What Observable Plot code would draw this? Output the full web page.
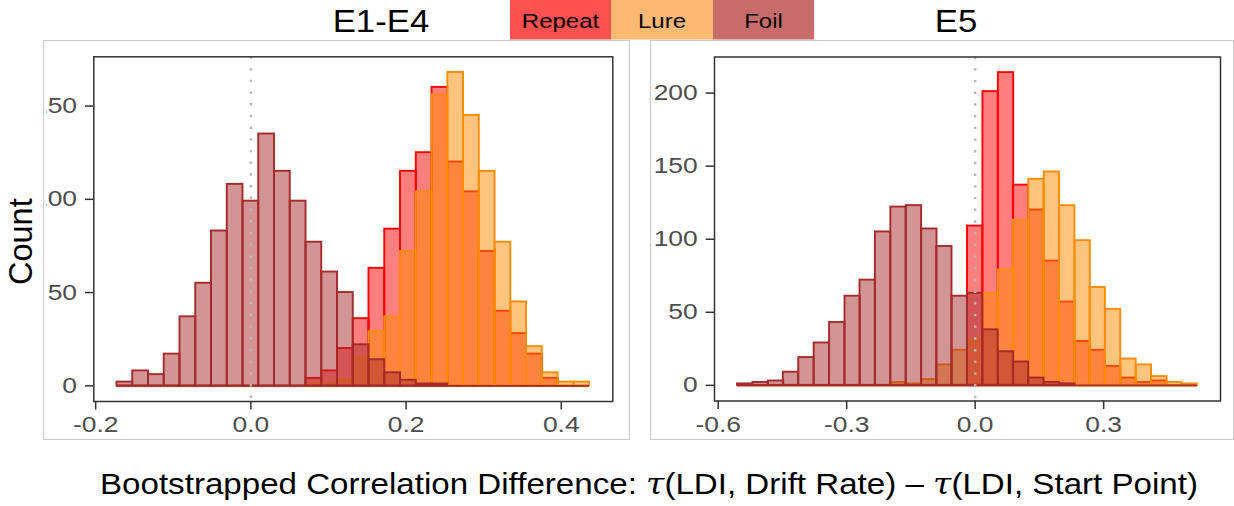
<!DOCTYPE html>
<html>
<head>
<meta charset="utf-8">
<script src="https://cdn.jsdelivr.net/npm/d3@7"></script>
<script src="https://cdn.jsdelivr.net/npm/@observablehq/plot@0.6"></script>
<style>
  body { margin: 0; background: #fff; }
  #root { position: relative; width: 1234px; height: 506px; overflow: hidden; background: #fff;
          font-family: "Liberation Sans", Arial, sans-serif; }
  .box { position: absolute; box-sizing: border-box; border: 1px solid #c8c8c8; pointer-events: none; }
  .panel { position: absolute; }
  #overlay { position: absolute; left: 0; top: 0; pointer-events: none; }
</style>
</head>
<body>
<div id="root"></div>
<script>
// Response groups, drawn in this order (later ones sit on top)
const groups = ["Repeat", "Lure", "Foil"];
const seriesColors = ["#ff0000", "#ff8c00", "#a52a2a"];
const legendColors = ["#ff5050", "#fdb871", "#c86b6b"];

// E1-E4: bootstrapped correlation differences, 30 bins
const e14BinWidth = 0.0203;
const e14Bins = [-0.1624, -0.1421, -0.1218, -0.1015, -0.0812, -0.0609, -0.0406, -0.0203, 0, 0.0203,
                 0.0406, 0.0609, 0.0812, 0.1015, 0.1218, 0.1421, 0.1624, 0.1827, 0.2030, 0.2233,
                 0.2436, 0.2639, 0.2842, 0.3045, 0.3248, 0.3451, 0.3654, 0.3857, 0.4060, 0.4263];
const e14Repeat = [0, 0, 0, 0, 0, 0, 0, 0, 0, 0,
                   0, 0, 4, 8, 20, 36, 63, 84, 115, 125,
                   160, 120, 104, 72, 40, 28, 17, 4, 0, 0];
const e14Lure   = [0, 0, 0, 0, 0, 0, 0, 0, 0, 0,
                   0, 0, 1, 1, 3, 15, 29, 37, 72, 104,
                   156, 168, 145, 115, 77, 45, 21, 7, 2, 2];
const e14Foil   = [2, 8, 6, 17, 37, 55, 83, 108, 99, 135,
                   115, 99, 77, 61, 50, 22, 14, 7, 3, 1,
                   1, 0, 0, 0, 0, 0, 0, 0, 0, 0];
const e14XDomain = [-0.2024, 0.4664];
const e14YDomain = [-8.4, 176.4];
const e14XTicks = [-0.2, 0, 0.2, 0.4];
const e14YTicks = [0, 50, 100, 150];

// E5
const e5BinWidth = 0.0358;
const e5Bins = [-0.537, -0.501, -0.465, -0.430, -0.394, -0.358, -0.322, -0.286, -0.251, -0.215,
                -0.179, -0.143, -0.107, -0.072, -0.036, 0, 0.036, 0.072, 0.107, 0.143,
                0.179, 0.215, 0.251, 0.286, 0.322, 0.358, 0.394, 0.430, 0.465, 0.501];
const e5Repeat = [0, 0, 0, 0, 0, 0, 0, 0, 0, 0,
                  0, 0, 0, 0, 0, 109, 201, 214, 137, 120,
                  85, 57, 30, 24, 13, 5, 2, 3, 0, 0];
const e5Lure   = [0, 0, 0, 0, 0, 0, 0, 0, 0, 0,
                  2, 1, 4, 14, 24, 31, 63, 79, 113, 141,
                  146, 123, 99, 67, 52, 18, 14, 6, 2, 1];
const e5Foil   = [1, 2, 3, 9, 19, 29, 43, 61, 72, 105,
                  122, 123, 107, 95, 61, 63, 38, 23, 16, 5,
                  2, 1, 0, 0, 0, 0, 0, 0, 0, 0];
const e5XDomain = [-0.6086, 0.5728];
const e5YDomain = [-10.7, 224.7];
const e5XTicks = [-0.6, -0.3, 0, 0.3];
const e5YTicks = [0, 50, 100, 150, 200];

const root = document.getElementById("root");
const FONT = '"Liberation Sans", Arial, sans-serif';

// Widen SVG text by a factor (the chart's lettering is set wide)
function widen(nodes, factor) {
  nodes.forEach(t => {
    const len = t.getComputedTextLength();
    t.setAttribute("textLength", (len * factor).toFixed(2));
    t.setAttribute("lengthAdjust", "spacingAndGlyphs");
  });
}

function drawPanel(cfg) {
  const series = [cfg.repeat, cfg.lure, cfg.foil];
  const marks = [];
  series.forEach((counts, i) => {
    const data = cfg.bins.map((c, j) => ({
      group: groups[i],
      x1: c - cfg.binWidth / 2,
      x2: c + cfg.binWidth / 2,
      count: counts[j]
    }));
    marks.push(Plot.rect(data.filter(d => d.count > 0), {
      x1: "x1", x2: "x2", y1: 0, y2: "count",
      fill: seriesColors[i], fillOpacity: 0.5,
      stroke: seriesColors[i], strokeWidth: 1.9
    }));
    // empty bins still leave an outline along the baseline
    marks.push(Plot.ruleY([0], {
      x1: data[0].x1, x2: data[data.length - 1].x2,
      stroke: seriesColors[i], strokeWidth: 1.9
    }));
  });
  marks.push(Plot.ruleX([0], {stroke: "#b5b5b5", strokeWidth: 2.4, strokeDasharray: "2.4,9.3"}));
  marks.push(Plot.axisX(cfg.xTicks, {
    tickFormat: d => d.toFixed(1), tickSize: 8.5, tickPadding: 6.5, fontSize: 22,
    stroke: "#333", color: "#4d4d4d", fill: "#4d4d4d", strokeWidth: 1.5, label: null
  }));
  marks.push(Plot.axisY(cfg.yTicks, {
    tickSize: 8.3, tickPadding: 8.5, fontSize: 22,
    stroke: "#333", color: "#4d4d4d", fill: "#4d4d4d", strokeWidth: 1.5, label: null
  }));
  marks.push(Plot.frame({stroke: "#333", strokeWidth: 1.5}));

  const svg = Plot.plot({
    width: cfg.width, height: cfg.height,
    marginLeft: cfg.marginLeft, marginRight: cfg.marginRight,
    marginTop: cfg.marginTop, marginBottom: cfg.marginBottom,
    x: {domain: cfg.xDomain},
    y: {domain: cfg.yDomain},
    style: {fontFamily: FONT, background: "transparent", overflow: "hidden"},
    marks
  });
  const holder = document.createElement("div");
  holder.className = "panel";
  holder.style.left = cfg.left + "px";
  holder.style.top = cfg.top + "px";
  holder.style.width = cfg.width + "px";
  holder.style.height = cfg.height + "px";
  holder.style.overflow = "hidden";
  // the panel viewport trims the widest tick labels on its left side
  holder.style.clipPath = `inset(0 0 0 ${cfg.clipLeft}px)`;
  holder.appendChild(svg);
  root.appendChild(holder);
  widen(svg.querySelectorAll('[aria-label$="tick label"] text'), 1.2);

  const box = document.createElement("div");
  box.className = "box";
  box.style.left = cfg.left + "px";
  box.style.top = cfg.top + "px";
  box.style.width = cfg.boxWidth + "px";
  box.style.height = cfg.height + "px";
  root.appendChild(box);
}

drawPanel({
  bins: e14Bins, binWidth: e14BinWidth, repeat: e14Repeat, lure: e14Lure, foil: e14Foil,
  xDomain: e14XDomain, yDomain: e14YDomain, xTicks: e14XTicks, yTicks: e14YTicks,
  left: 43, top: 40, width: 586, height: 400, boxWidth: 587, clipLeft: 3,
  marginLeft: 50.3, marginRight: 16.7, marginTop: 16.3, marginBottom: 39
});

drawPanel({
  bins: e5Bins, binWidth: e5BinWidth, repeat: e5Repeat, lure: e5Lure, foil: e5Foil,
  xDomain: e5XDomain, yDomain: e5YDomain, xTicks: e5XTicks, yTicks: e5YTicks,
  left: 650, top: 40, width: 584, height: 400, boxWidth: 584, clipLeft: 0,
  marginLeft: 64, marginRight: 14, marginTop: 16.5, marginBottom: 39.5
});

// Titles, legend and axis titles
const overlay = d3.select(root).append("svg")
  .attr("id", "overlay").attr("width", 1234).attr("height", 506)
  .style("font-family", FONT);

function label(text, x, y, size, factor, target) {
  const t = overlay.append("text")
    .attr("x", x).attr("y", y)
    .attr("text-anchor", "middle")
    .attr("font-size", size)
    .attr("fill", "#000")
    .text(text);
  const len = t.node().getComputedTextLength();
  t.attr("textLength", target != null ? target : len * factor).attr("lengthAdjust", "spacingAndGlyphs");
  return t;
}

label("E1-E4", 381, 32.3, 30.5, 1.14);
label("E5", 956, 32.3, 30.5, 1.14);

const legendX = [510, 611, 713, 814];
groups.forEach((g, i) => {
  overlay.append("rect")
    .attr("x", legendX[i]).attr("y", 0)
    .attr("width", legendX[i + 1] - legendX[i]).attr("height", 39.5)
    .attr("fill", legendColors[i]);
  label(g, (legendX[i] + legendX[i + 1]) / 2, 28, 20, 1.2);
});

overlay.append("text")
  .attr("transform", "translate(31.5,241.7) rotate(-90)")
  .attr("text-anchor", "middle")
  .attr("font-size", 32.5)
  .attr("fill", "#000")
  .text("Count");

const xTitle = overlay.append("text")
  .attr("x", 649).attr("y", 493.5)
  .attr("text-anchor", "middle")
  .attr("font-size", 30)
  .attr("fill", "#000");
const tau = () => xTitle.append("tspan")
  .attr("font-family", '"DejaVu Serif", "Liberation Serif", serif')
  .attr("font-style", "italic").text("τ");
xTitle.append("tspan").text("Bootstrapped Correlation Difference: ");
tau();
xTitle.append("tspan").text("(LDI, Drift Rate) – ");
tau();
xTitle.append("tspan").text("(LDI, Start Point)");
xTitle.attr("textLength", 1098).attr("lengthAdjust", "spacingAndGlyphs");
</script>
</body>
</html>
